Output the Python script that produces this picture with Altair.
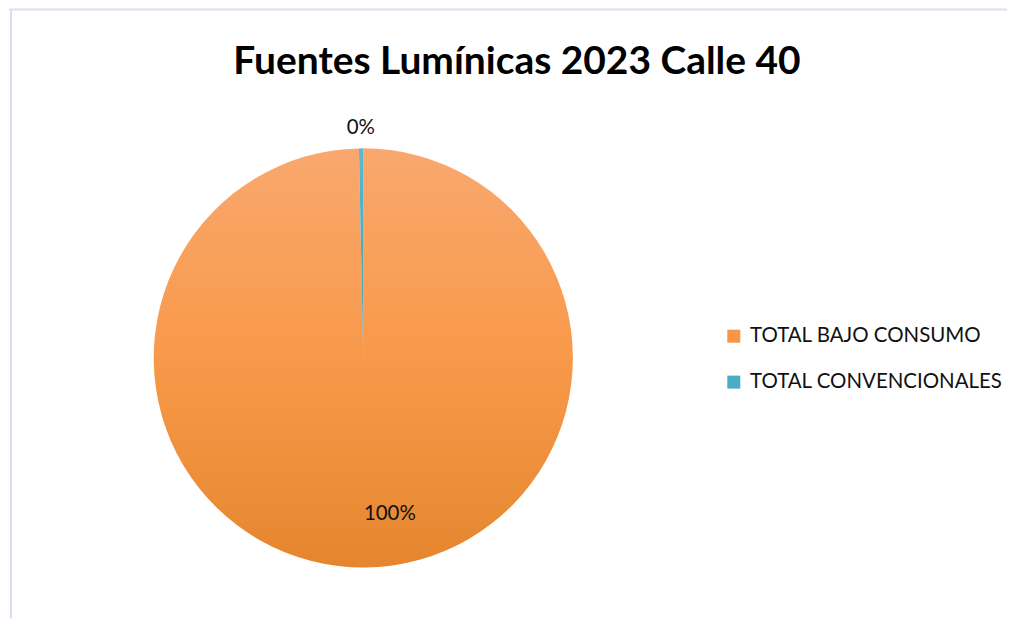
import altair as alt
import pandas as pd

categories = ["TOTAL BAJO CONSUMO", "TOTAL CONVENCIONALES"]
values = [300, 1]
order = [1, 2]
title_text = "Fuentes Lumínicas 2023 Calle 40"

legend_colors = ["#F79646", "#4BACC6"]
orange_grad = alt.LinearGradient(
    gradient="linear", x1=0, y1=0, x2=0, y2=1,
    stops=[alt.GradientStop(offset=0, color="#F9A86E"),
           alt.GradientStop(offset=0.5, color="#F8994A"),
           alt.GradientStop(offset=1, color="#E5862E")])
blue_grad = alt.LinearGradient(
    gradient="linear", x1=0, y1=0, x2=0, y2=1,
    stops=[alt.GradientStop(offset=0, color="#5DB9D2"),
           alt.GradientStop(offset=1, color="#3E9AB3")])

df = pd.DataFrame({"cat": categories, "value": values, "order": order})
total = float(sum(values))

W, H = 1000, 610
CX, CY, R = 355, 349, 210
FONT = "Lato"

base = (alt.Chart(df)
        .transform_joinaggregate(total="sum(value)")
        .transform_stack(stack="value", groupby=[], as_=["start", "end"],
                         sort=[alt.SortField("order", order="ascending")])
        .transform_calculate(pct="format(datum.value / datum.total, '.0%')",
                             mid="(datum.start + datum.end) / 2"))

theta_scale = alt.Scale(domain=[0, total])

def slice_layer(cat, fill):
    return (base.transform_filter(alt.datum.cat == cat)
            .mark_arc(fill=fill, radius=R, stroke="transparent")
            .encode(theta=alt.Theta("start:Q", scale=theta_scale),
                    theta2="end:Q",
                    x=alt.value(CX), y=alt.value(CY)))

legend_layer = (base.mark_arc(radius=1, opacity=0)
                .encode(theta=alt.Theta("start:Q", scale=theta_scale),
                        theta2="end:Q",
                        x=alt.value(CX), y=alt.value(CY),
                        color=alt.Color("cat:N",
                                        scale=alt.Scale(domain=categories, range=legend_colors),
                                        legend=alt.Legend(title=None, orient="none",
                                                          legendX=716, legendY=317,
                                                          symbolType="square", symbolSize=169,
                                                          symbolOpacity=1, symbolStrokeWidth=0,
                                                          labelFont=FONT, labelFontSize=20.5,
                                                          labelLimit=0,
                                                          labelColor="#111111", labelOffset=6,
                                                          rowPadding=25))))

def label_layer(cat, radius, dx=0, dy=0):
    return (base.transform_filter(alt.datum.cat == cat)
            .mark_text(radius=radius, font=FONT, fontSize=20.5, color="#111111", dx=dx, dy=dy)
            .encode(theta=alt.Theta("mid:Q", scale=theta_scale),
                    text="pct:N",
                    x=alt.value(CX), y=alt.value(CY)))

title_layer = (alt.Chart(pd.DataFrame({"t": [title_text]}))
               .mark_text(font=FONT, fontSize=39, fontWeight="bold", color="#000000")
               .encode(text="t:N", x=alt.value(509), y=alt.value(53)))

border_top = (alt.Chart(pd.DataFrame({"t": [title_text]}))
              .mark_rule(color="#D6E0F2", strokeWidth=2)
              .encode(x=alt.value(0), x2=alt.value(W), y=alt.value(0)))
border_left = (alt.Chart(pd.DataFrame({"t": [title_text]}))
               .mark_rule(color="#D6E0F2", strokeWidth=2)
               .encode(x=alt.value(2), y=alt.value(0), y2=alt.value(H)))

chart = (alt.layer(border_top, border_left,
                   slice_layer(categories[0], orange_grad),
                   slice_layer(categories[1], blue_grad),
                   legend_layer,
                   label_layer(categories[0], 156, dx=25),
                   label_layer(categories[1], 230),
                   title_layer)
         .properties(width=W, height=H, padding=0)
         .configure_view(stroke="transparent"))

chart.save("out.html", embed_options={"renderer": "svg", "actions": False})
